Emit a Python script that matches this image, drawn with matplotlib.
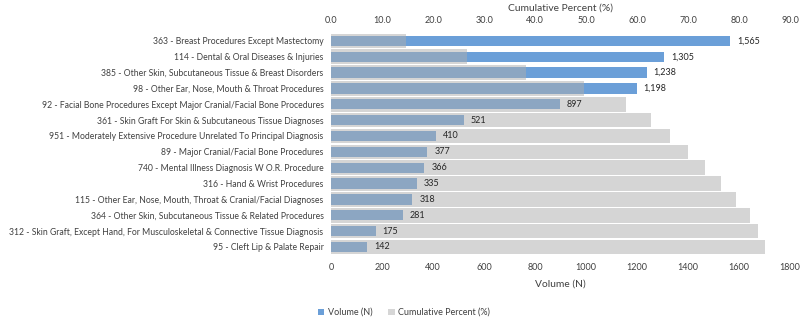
import matplotlib
matplotlib.use("Agg")
import matplotlib.pyplot as plt
from matplotlib.patches import Patch
import numpy as np

categories = [
    "363 - Breast Procedures Except Mastectomy",
    "114 - Dental & Oral Diseases & Injuries",
    "385 - Other Skin, Subcutaneous Tissue & Breast Disorders",
    "98 - Other Ear, Nose, Mouth & Throat Procedures",
    "92 - Facial Bone Procedures Except Major Cranial/Facial Bone Procedures",
    "361 - Skin Graft For Skin & Subcutaneous Tissue Diagnoses",
    "951 - Moderately Extensive Procedure Unrelated To Principal Diagnosis",
    "89 - Major Cranial/Facial Bone Procedures",
    "740 - Mental Illness Diagnosis W O.R. Procedure",
    "316 - Hand & Wrist Procedures",
    "115 - Other Ear, Nose, Mouth, Throat & Cranial/Facial Diagnoses",
    "364 - Other Skin, Subcutaneous Tissue & Related Procedures",
    "312 - Skin Graft, Except Hand, For Musculoskeletal & Connective Tissue Diagnosis",
    "95 - Cleft Lip & Palate Repair",
]
volume = [1565, 1305, 1238, 1198, 897, 521, 410, 377, 366, 335, 318, 281, 175, 142]
cumulative_pct = [14.6, 26.7, 38.3, 49.5, 57.9, 62.7, 66.5, 70.0, 73.4, 76.5, 79.5, 82.1, 83.8, 85.1]
volume_ticks = [0, 200, 400, 600, 800, 1000, 1200, 1400, 1600, 1800]
pct_ticks = [0, 10, 20, 30, 40, 50, 60, 70, 80, 90]

plt.rcParams['font.family'] = ['Lato', 'DejaVu Sans']
txt = '#404040'
blue = '#6b9fd8'
fs = 6.45
fs_cat = 6.25

fig = plt.figure(figsize=(8, 3.17), dpi=100)
ax = fig.add_axes([0.414, 0.196, 0.5735, 0.70])
y = np.arange(len(categories))

ax.barh(y, volume, height=0.65, color=blue, zorder=2)
ax.set_xlim(0, 1800)
ax.set_ylim(len(categories) - 0.5, -0.5)
ax.set_yticks(y)
ax.set_yticklabels(categories, fontsize=fs_cat, color=txt)
ax.set_xticks(volume_ticks)
ax.set_xticklabels([str(t) for t in volume_ticks], fontsize=fs, color=txt)
ax.set_xlabel("Volume (N)", fontsize=7.4, color=txt, labelpad=5)
ax.tick_params(axis='x', length=0, pad=6)
ax.tick_params(axis='y', length=0, pad=5.5)

ax2 = ax.twiny()
ax2.barh(y, cumulative_pct, height=0.92, color='#adadad', alpha=0.5, zorder=2)
ax2.set_xlim(0, 90)
ax2.set_ylim(len(categories) - 0.5, -0.5)
ax2.set_xticks(pct_ticks)
ax2.set_xticklabels([f"{t:.1f}" for t in pct_ticks], fontsize=fs, color=txt)
ax2.set_xlabel("Cumulative Percent (%)", fontsize=7.4, color=txt, labelpad=4)
ax2.tick_params(axis='both', length=0, pad=6)

for a in (ax, ax2):
    for s in a.spines.values():
        s.set_visible(False)

for yi, v in zip(y, volume):
    ax2.annotate(f"{v:,}", xy=(v, yi), xycoords=ax.transData,
                 xytext=(5, 0), textcoords='offset points',
                 va='center', ha='left', fontsize=fs, color='#262626')

handles = [Patch(facecolor=blue, label='Volume (N)'),
           Patch(facecolor='#d6d6d6', label='Cumulative Percent (%)')]
fig.legend(handles=handles, loc='lower center', bbox_to_anchor=(0.505, -0.025),
           ncol=2, frameon=False, fontsize=fs, handlelength=0.7, handleheight=0.7,
           columnspacing=1.8, handletextpad=0.4, labelcolor=txt)

fig.savefig("out.png", dpi=100)
